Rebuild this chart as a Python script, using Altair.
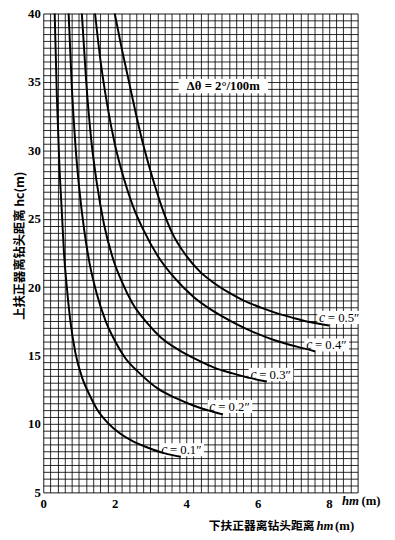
import altair as alt
import pandas as pd

# ---- curve data: hm (x) vs hc (y) ----
c_names = ["0.1", "0.2", "0.3", "0.4", "0.5"]
c01_x = [0.32, 0.38, 0.45, 0.52, 0.58, 0.66, 0.76, 0.9, 1.1, 1.3, 1.5, 1.8, 2.15, 2.5, 2.9, 3.4, 3.85]
c01_y = [40.0, 34.0, 29.0, 25.5, 22.5, 20.0, 17.5, 15.2, 13.3, 12.1, 11.1, 10.1, 9.3, 8.75, 8.3, 7.85, 7.6]
c02_x = [0.71, 0.8, 0.9, 1.0, 1.15, 1.3, 1.5, 1.75, 2.0, 2.3, 2.7, 3.2, 3.7, 4.2, 4.6, 5.03]
c02_y = [40.0, 34.6, 30.4, 27.4, 24.1, 21.7, 19.5, 17.5, 16.1, 14.8, 13.7, 12.6, 11.9, 11.35, 11.0, 10.7]
c03_x = [1.08, 1.2, 1.35, 1.5, 1.7, 1.95, 2.2, 2.5, 2.9, 3.3, 3.8, 4.3, 4.8, 5.3, 5.8, 6.26]
c03_y = [40.0, 35.1, 30.6, 27.6, 24.6, 22.1, 20.4, 18.8, 17.4, 16.3, 15.4, 14.7, 14.1, 13.7, 13.35, 13.1]
c04_x = [1.45, 1.6, 1.8, 2.0, 2.25, 2.5, 2.8, 3.2, 3.7, 4.2, 4.73, 5.3, 5.9, 6.5, 7.1, 7.62]
c04_y = [40.0, 36.6, 33.2, 30.5, 28.0, 26.0, 24.2, 22.3, 20.6, 19.3, 18.3, 17.45, 16.7, 16.1, 15.65, 15.3]
c05_x = [2.0, 2.2, 2.4, 2.6, 2.8, 3.0, 3.3, 3.6, 4.0, 4.4, 4.73, 5.2, 5.63, 6.1, 6.53, 7.0, 7.46, 8.0]
c05_y = [40.0, 37.4, 35.0, 32.6, 30.4, 28.5, 26.0, 24.0, 22.3, 21.1, 20.4, 19.6, 19.0, 18.5, 18.1, 17.75, 17.45, 17.2]

# ---- curve labels ----
label_text = ["= 0.1″", "= 0.2″", "= 0.3″", "= 0.4″", "= 0.5″"]
label_x = [3.3, 4.65, 5.8, 7.36, 7.72]
label_y = [8.1, 11.25, 13.6, 15.75, 17.75]

note_text = ["Δθ = 2°/100m"]
note_x = [5.04]
note_y = [34.67]

# axis tick values (grid every 0.2 m in x, 0.5 m in y)
x_ticks = [round(i * 0.2, 1) for i in range(45)]
y_ticks = [5 + 0.5 * i for i in range(71)]

rows = []
for name, xs, ys in zip(c_names, [c01_x, c02_x, c03_x, c04_x, c05_x],
                        [c01_y, c02_y, c03_y, c04_y, c05_y]):
    for i, (xv, yv) in enumerate(zip(xs, ys)):
        rows.append({"c": name, "hm": xv, "hc": yv, "order": i})
df = pd.DataFrame(rows)

lab = pd.DataFrame({"t": label_text, "x": label_x, "y": label_y})
lab["bx1"] = lab["x"] - 0.05
lab["bx2"] = lab["x"] + 1.2
lab["by1"] = lab["y"] - 0.45
lab["by2"] = lab["y"] + 0.5

note = pd.DataFrame({"t": note_text, "x": note_x, "y": note_y})
note["bx1"] = note["x"] - 1.25
note["bx2"] = note["x"] + 1.25
note["by1"] = note["y"] - 0.5
note["by2"] = note["y"] + 0.55

x_scale = alt.Scale(domain=[0, 8.8], nice=False, zero=False)
y_scale = alt.Scale(domain=[5, 40], nice=False, zero=False)

SERIF = "Liberation Serif"
CJK = "Noto Sans CJK SC"

x_axis = alt.Axis(values=x_ticks, grid=True, gridColor="black", gridOpacity=0.85, gridWidth=1,
                  ticks=False, domain=False, title=None, labelOverlap=False, labelFlush=False,
                  labelExpr="(abs(datum.value/2 - round(datum.value/2)) < 0.001) ? format(datum.value, 'd') : ''",
                  labelFont=SERIF, labelFontSize=13, labelFontWeight="bold", labelColor="black",
                  labelPadding=5)
y_axis = alt.Axis(values=y_ticks, grid=True, gridColor="black", gridOpacity=0.85, gridWidth=1,
                  ticks=False, domain=False, title=None, labelOverlap=False, labelFlush=False,
                  labelExpr="(abs(datum.value/5 - round(datum.value/5)) < 0.001) ? format(datum.value, 'd') : ''",
                  labelFont=SERIF, labelFontSize=13, labelFontWeight="bold", labelColor="black",
                  labelPadding=3)


def X(field):
    return alt.X(field, scale=x_scale, axis=x_axis)


def Y(field):
    return alt.Y(field, scale=y_scale, axis=y_axis)


boxes = alt.Chart(lab).mark_rect(color="white").encode(
    x=X("bx1:Q"), x2="bx2:Q", y=Y("by1:Q"), y2="by2:Q")
note_box = alt.Chart(note).mark_rect(color="white").encode(
    x=X("bx1:Q"), x2="bx2:Q", y=Y("by1:Q"), y2="by2:Q")

curves = alt.Chart(df).mark_line(color="black", strokeWidth=2, interpolate="monotone").encode(
    x=X("hm:Q"), y=Y("hc:Q"), detail="c:N", order="order:Q")

c_mark = alt.Chart(lab).mark_text(text="c", font=SERIF, fontSize=14, fontStyle="italic",
                                  align="left", baseline="middle", color="black").encode(
    x=X("x:Q"), y=Y("y:Q"))
c_rest = alt.Chart(lab).mark_text(font=SERIF, fontSize=13, align="left", baseline="middle",
                                  dx=9, color="black").encode(
    x=X("x:Q"), y=Y("y:Q"), text="t:N")

note_txt = alt.Chart(note).mark_text(font=SERIF, fontSize=13, fontWeight="bold", align="center",
                                     baseline="middle", color="black").encode(
    x=X("x:Q"), y=Y("y:Q"), text="t:N")

one = pd.DataFrame({"t": [0]})
ytitle = alt.Chart(one).mark_text(text="上扶正器离钻头距离 hc(m)", font=CJK, fontSize=12.5,
                                  fontWeight="bold", angle=270, align="center",
                                  baseline="middle", color="black").encode(
    x=alt.value(-24), y=alt.value(237))
xtitle_cjk = alt.Chart(one).mark_text(text="下扶正器离钻头距离", font=CJK, fontSize=12,
                                      fontWeight="bold", align="left", baseline="middle",
                                      color="black").encode(x=alt.value(169), y=alt.value(523))
xtitle_hm = alt.Chart(one).mark_text(text="hm", font=SERIF, fontSize=13, fontStyle="italic",
                                     fontWeight="bold", align="left", baseline="middle",
                                     color="black").encode(x=alt.value(279), y=alt.value(523))
xtitle_m = alt.Chart(one).mark_text(text="(m)", font=SERIF, fontSize=13, fontWeight="bold",
                                    align="left", baseline="middle",
                                    color="black").encode(x=alt.value(298), y=alt.value(523))
axis_hm = alt.Chart(one).mark_text(text="hm", font=SERIF, fontSize=13, fontStyle="italic",
                                   fontWeight="bold", align="left", baseline="middle",
                                   color="black").encode(x=alt.value(305), y=alt.value(498))
axis_m = alt.Chart(one).mark_text(text="(m)", font=SERIF, fontSize=13, fontWeight="bold",
                                  align="left", baseline="middle",
                                  color="black").encode(x=alt.value(325), y=alt.value(498))

chart = alt.layer(
    boxes, note_box, curves, c_mark, c_rest, note_txt,
    ytitle, xtitle_cjk, xtitle_hm, xtitle_m, axis_hm, axis_m,
).properties(
    width=321, height=489,
    autosize=alt.AutoSizeParams(type="none"),
    padding={"left": 36, "top": 0, "right": 30, "bottom": 43},
).configure_view(stroke="black", strokeWidth=1.5).configure(background="white")

chart.save("out.html", embed_options={"renderer": "svg", "actions": False})
